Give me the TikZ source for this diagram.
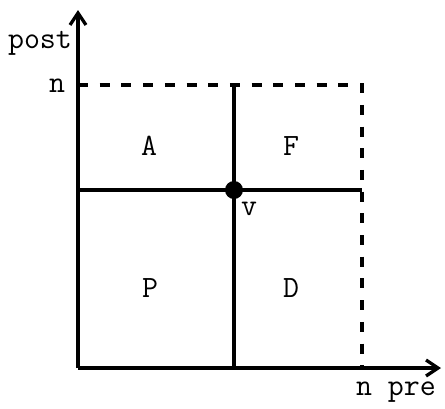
\documentclass[tikz,border=0pt]{standalone}
\usepackage{fontspec}
\usetikzlibrary{arrows.meta}
\newcommand{\lblfont}{\ttfamily\fontsize{31}{36}\selectfont\addfontfeatures{FakeStretch=1.08}}
\begin{document}
\begin{tikzpicture}[x=1pt,y=-1pt,
  line/.style={line width=3.3pt},
  dline/.style={line width=3.3pt,dash pattern=on 10pt off 11.7pt},
  axis/.style={line width=3.3pt,-{Straight Barb[length=12pt,width=16pt,line width=3.3pt]}},
  lbl/.style={font=\lblfont,inner sep=0pt,anchor=base}]
\useasboundingbox (0,0) rectangle (445,408);
\coordinate (O) at (78,368);
\coordinate (Ytop) at (78,10);
\coordinate (Xend) at (441,368);
\coordinate (TL) at (78,85);
\coordinate (TR) at (362,85);
\coordinate (BR) at (362,368);
\coordinate (MT) at (234,85);
\coordinate (MB) at (234,368);
\coordinate (ML) at (78,190);
\coordinate (MR) at (362,190);
\draw[dline] (TL) -- (TR) -- (BR);
\draw[line] (MT) -- (MB);
\draw[line] (ML) -- (MR);
\draw[axis] (O) -- (Ytop);
\draw[axis] (O) -- (Xend);
\node[circle,fill=black,minimum size=18pt,inner sep=0pt] (v) at (234,190) {};
\node[lbl] (post) at (40,48) {post};
\node[lbl] (n1) at (57,92) {n};
\node[lbl] (A) at (149,155) {A};
\node[lbl] (F) at (291,155) {F};
\node[lbl] (P) at (150,297) {P};
\node[lbl] (D) at (291,297) {D};
\node[lbl] (vl) at (249,215) {v};
\node[lbl] (npre) at (396,395) {n pre};
\end{tikzpicture}
\end{document}
